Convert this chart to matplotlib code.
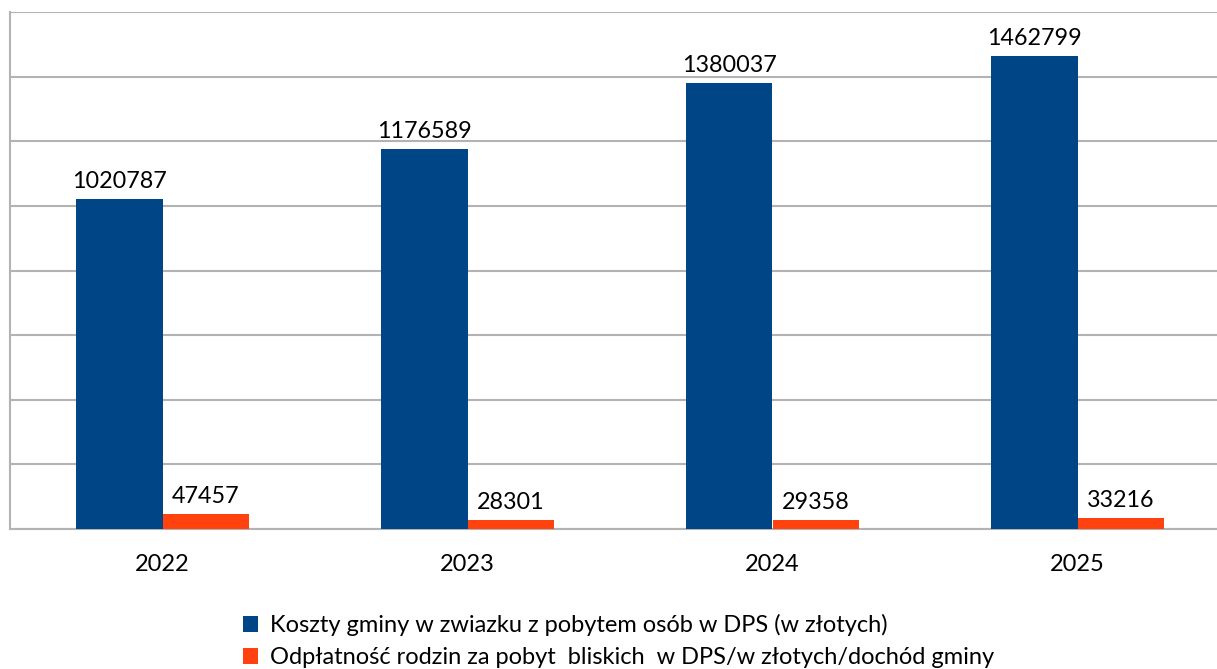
import matplotlib.pyplot as plt
import numpy as np

plt.rcParams['font.family'] = ['Lato', 'DejaVu Sans']

years = ['2022', '2023', '2024', '2025']
koszty = [1020787, 1176589, 1380037, 1462799]
odplatnosc = [47457, 28301, 29358, 33216]

label_koszty = 'Koszty gminy w zwiazku z pobytem osób w DPS (w złotych)'
label_odpl = 'Odpłatność rodzin za pobyt  bliskich  w DPS/w złotych/dochód gminy'

BLUE = '#004586'
ORANGE = '#ff420e'
GRID = '#b3b3b3'

fig = plt.figure(figsize=(12.17, 6.69), dpi=100)
ax = fig.add_axes([10 / 1217, 140 / 669, 1220 / 1217, 517 / 669])

x = np.arange(len(years))
w = 0.285
b1 = ax.bar(x - w / 2, koszty, w, color=BLUE, label=label_koszty, zorder=3)
b2 = ax.bar(x + w / 2, odplatnosc, w, color=ORANGE, label=label_odpl, zorder=3)

for bars, vals in ((b1, koszty), (b2, odplatnosc)):
    for r, v in zip(bars, vals):
        ax.annotate(str(v), (r.get_x() + r.get_width() / 2, v),
                    xytext=(0, 5), textcoords='offset points',
                    ha='center', va='bottom', fontsize=16.8, color='black')

ax.set_xlim(-0.5, 3.5)
ax.set_ylim(0, 1600000)
ax.set_yticks(np.arange(0, 1600001, 200000))
ax.set_yticklabels([])
ax.yaxis.grid(True, color=GRID, linewidth=1.5, zorder=0)
ax.set_xticks(x)
ax.set_xticklabels(years, fontsize=17)
ax.tick_params(axis='both', length=0)
ax.tick_params(axis='x', pad=18)

for s in ('top', 'right'):
    ax.spines[s].set_visible(False)
for s in ('left', 'bottom'):
    ax.spines[s].set_color(GRID)
    ax.spines[s].set_linewidth(1.5)

fig.legend(loc='upper left', bbox_to_anchor=(243 / 1217, 1 - 614 / 669),
           frameon=False, fontsize=17, handlelength=0.65, handleheight=0.65,
           handletextpad=0.5, labelspacing=0.47, borderpad=0, borderaxespad=0)

fig.savefig('out.png', dpi=100)
